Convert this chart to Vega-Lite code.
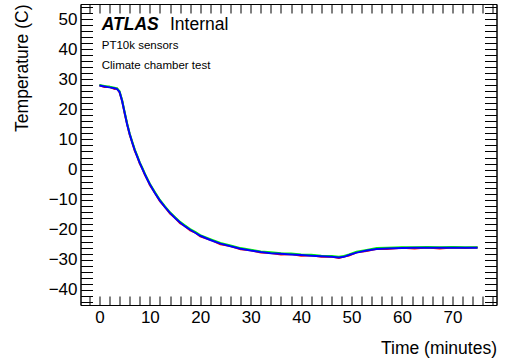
{
  "$schema": "https://vega.github.io/schema/vega-lite/v6.json",
  "width": 416,
  "height": 301,
  "autosize": {"type": "none"},
  "padding": {"left": 80.5, "top": 4, "right": 8.5, "bottom": 53},
  "background": "white",
  "config": {
    "font": "Liberation Sans",
    "view": {"stroke": "black", "strokeWidth": 1},
    "axis": {
      "grid": false,
      "domainColor": "black",
      "domainWidth": 1,
      "tickColor": "black",
      "tickWidth": 1,
      "labelColor": "black",
      "labelFont": "Liberation Sans",
      "labelFontSize": 17,
      "titleFont": "Liberation Sans",
      "titleFontSize": 17.5,
      "titleFontWeight": "normal",
      "titleColor": "black",
      "labelOverlap": false,
      "labelFlush": false
    }
  },
  "datasets": {
    "curves": [
      {"series": "red", "time": 0, "temp": 28.0}, {"series": "red", "time": 1, "temp": 27.4}, {"series": "red", "time": 2, "temp": 27.5}, {"series": "red", "time": 3, "temp": 26.8}, {"series": "red", "time": 3.5, "temp": 26.9}, {"series": "red", "time": 4, "temp": 25.6}, {"series": "red", "time": 4.5, "temp": 22.9}, {"series": "red", "time": 5, "temp": 18.7}, {"series": "red", "time": 5.5, "temp": 15.1}, {"series": "red", "time": 6, "temp": 11.6}, {"series": "red", "time": 6.5, "temp": 9.1}, {"series": "red", "time": 7, "temp": 6.3}, {"series": "red", "time": 7.5, "temp": 4.4}, {"series": "red", "time": 8, "temp": 2.0}, {"series": "red", "time": 8.5, "temp": 0.4}, {"series": "red", "time": 9, "temp": -1.7}, {"series": "red", "time": 9.5, "temp": -3.2}, {"series": "red", "time": 10, "temp": -5.1}, {"series": "red", "time": 11, "temp": -7.7}, {"series": "red", "time": 12, "temp": -10.5}, {"series": "red", "time": 13, "temp": -12.4}, {"series": "red", "time": 14, "temp": -14.6}, {"series": "red", "time": 15, "temp": -16.0}, {"series": "red", "time": 16, "temp": -17.8}, {"series": "red", "time": 17, "temp": -18.8}, {"series": "red", "time": 18, "temp": -20.2}, {"series": "red", "time": 19, "temp": -20.9}, {"series": "red", "time": 20, "temp": -22.2}, {"series": "red", "time": 22, "temp": -23.3}, {"series": "red", "time": 24, "temp": -24.8}, {"series": "red", "time": 26, "temp": -25.4}, {"series": "red", "time": 28, "temp": -26.5}, {"series": "red", "time": 30, "temp": -26.8}, {"series": "red", "time": 32, "temp": -27.6}, {"series": "red", "time": 34, "temp": -27.7}, {"series": "red", "time": 36, "temp": -28.2}, {"series": "red", "time": 38, "temp": -28.1}, {"series": "red", "time": 40, "temp": -28.6}, {"series": "red", "time": 42, "temp": -28.5}, {"series": "red", "time": 44, "temp": -29.0}, {"series": "red", "time": 46, "temp": -28.9}, {"series": "red", "time": 47.5, "temp": -29.4}, {"series": "red", "time": 48.5, "temp": -28.9}, {"series": "red", "time": 49.5, "temp": -28.6}, {"series": "red", "time": 51, "temp": -27.5}, {"series": "red", "time": 53, "temp": -27.1}, {"series": "red", "time": 55, "temp": -26.3}, {"series": "red", "time": 57, "temp": -26.4}, {"series": "red", "time": 60, "temp": -26.0}, {"series": "red", "time": 62.5, "temp": -26.2}, {"series": "red", "time": 65, "temp": -25.9}, {"series": "red", "time": 67.5, "temp": -26.2}, {"series": "red", "time": 70, "temp": -25.9}, {"series": "red", "time": 72.5, "temp": -26.1}, {"series": "red", "time": 75, "temp": -25.9},
      {"series": "green", "time": 0, "temp": 28.1}, {"series": "green", "time": 1, "temp": 27.8}, {"series": "green", "time": 2, "temp": 27.5}, {"series": "green", "time": 3, "temp": 27.2}, {"series": "green", "time": 3.5, "temp": 27.0}, {"series": "green", "time": 4, "temp": 26.0}, {"series": "green", "time": 4.5, "temp": 23.1}, {"series": "green", "time": 5, "temp": 19.1}, {"series": "green", "time": 5.5, "temp": 15.3}, {"series": "green", "time": 6, "temp": 12.0}, {"series": "green", "time": 6.5, "temp": 9.3}, {"series": "green", "time": 7, "temp": 6.7}, {"series": "green", "time": 7.5, "temp": 4.6}, {"series": "green", "time": 8, "temp": 2.4}, {"series": "green", "time": 8.5, "temp": 0.6}, {"series": "green", "time": 9, "temp": -1.3}, {"series": "green", "time": 9.5, "temp": -3.0}, {"series": "green", "time": 10, "temp": -4.7}, {"series": "green", "time": 11, "temp": -7.5}, {"series": "green", "time": 12, "temp": -10.1}, {"series": "green", "time": 13, "temp": -12.2}, {"series": "green", "time": 14, "temp": -14.2}, {"series": "green", "time": 15, "temp": -15.8}, {"series": "green", "time": 16, "temp": -17.4}, {"series": "green", "time": 17, "temp": -18.6}, {"series": "green", "time": 18, "temp": -19.8}, {"series": "green", "time": 19, "temp": -20.7}, {"series": "green", "time": 20, "temp": -21.8}, {"series": "green", "time": 22, "temp": -23.1}, {"series": "green", "time": 24, "temp": -24.4}, {"series": "green", "time": 26, "temp": -25.2}, {"series": "green", "time": 28, "temp": -26.1}, {"series": "green", "time": 30, "temp": -26.6}, {"series": "green", "time": 32, "temp": -27.2}, {"series": "green", "time": 34, "temp": -27.5}, {"series": "green", "time": 36, "temp": -27.8}, {"series": "green", "time": 38, "temp": -27.9}, {"series": "green", "time": 40, "temp": -28.2}, {"series": "green", "time": 42, "temp": -28.3}, {"series": "green", "time": 44, "temp": -28.6}, {"series": "green", "time": 46, "temp": -28.7}, {"series": "green", "time": 47.5, "temp": -29.0}, {"series": "green", "time": 48.5, "temp": -28.7}, {"series": "green", "time": 49.5, "temp": -28.2}, {"series": "green", "time": 51, "temp": -27.3}, {"series": "green", "time": 53, "temp": -26.7}, {"series": "green", "time": 55, "temp": -26.1}, {"series": "green", "time": 57, "temp": -26.0}, {"series": "green", "time": 60, "temp": -25.8}, {"series": "green", "time": 62.5, "temp": -25.8}, {"series": "green", "time": 65, "temp": -25.7}, {"series": "green", "time": 67.5, "temp": -25.8}, {"series": "green", "time": 70, "temp": -25.7}, {"series": "green", "time": 72.5, "temp": -25.8}, {"series": "green", "time": 75, "temp": -25.8},
      {"series": "blue", "time": 0, "temp": 27.9}, {"series": "blue", "time": 1, "temp": 27.6}, {"series": "blue", "time": 2, "temp": 27.3}, {"series": "blue", "time": 3, "temp": 27.0}, {"series": "blue", "time": 3.5, "temp": 26.7}, {"series": "blue", "time": 4, "temp": 25.8}, {"series": "blue", "time": 4.5, "temp": 22.8}, {"series": "blue", "time": 5, "temp": 18.9}, {"series": "blue", "time": 5.5, "temp": 15.0}, {"series": "blue", "time": 6, "temp": 11.8}, {"series": "blue", "time": 6.5, "temp": 9.0}, {"series": "blue", "time": 7, "temp": 6.5}, {"series": "blue", "time": 7.5, "temp": 4.3}, {"series": "blue", "time": 8, "temp": 2.2}, {"series": "blue", "time": 8.5, "temp": 0.3}, {"series": "blue", "time": 9, "temp": -1.5}, {"series": "blue", "time": 9.5, "temp": -3.3}, {"series": "blue", "time": 10, "temp": -4.9}, {"series": "blue", "time": 11, "temp": -7.8}, {"series": "blue", "time": 12, "temp": -10.3}, {"series": "blue", "time": 13, "temp": -12.5}, {"series": "blue", "time": 14, "temp": -14.4}, {"series": "blue", "time": 15, "temp": -16.1}, {"series": "blue", "time": 16, "temp": -17.6}, {"series": "blue", "time": 17, "temp": -18.9}, {"series": "blue", "time": 18, "temp": -20.0}, {"series": "blue", "time": 19, "temp": -21.0}, {"series": "blue", "time": 20, "temp": -22.0}, {"series": "blue", "time": 22, "temp": -23.4}, {"series": "blue", "time": 24, "temp": -24.6}, {"series": "blue", "time": 26, "temp": -25.5}, {"series": "blue", "time": 28, "temp": -26.3}, {"series": "blue", "time": 30, "temp": -26.9}, {"series": "blue", "time": 32, "temp": -27.4}, {"series": "blue", "time": 34, "temp": -27.8}, {"series": "blue", "time": 36, "temp": -28.0}, {"series": "blue", "time": 38, "temp": -28.2}, {"series": "blue", "time": 40, "temp": -28.4}, {"series": "blue", "time": 42, "temp": -28.6}, {"series": "blue", "time": 44, "temp": -28.8}, {"series": "blue", "time": 46, "temp": -29.0}, {"series": "blue", "time": 47.5, "temp": -29.2}, {"series": "blue", "time": 48.5, "temp": -29.0}, {"series": "blue", "time": 49.5, "temp": -28.4}, {"series": "blue", "time": 51, "temp": -27.6}, {"series": "blue", "time": 53, "temp": -26.9}, {"series": "blue", "time": 55, "temp": -26.4}, {"series": "blue", "time": 57, "temp": -26.2}, {"series": "blue", "time": 60, "temp": -26.1}, {"series": "blue", "time": 62.5, "temp": -26.0}, {"series": "blue", "time": 65, "temp": -26.0}, {"series": "blue", "time": 67.5, "temp": -26.0}, {"series": "blue", "time": 70, "temp": -26.0}, {"series": "blue", "time": 72.5, "temp": -26.0}, {"series": "blue", "time": 75, "temp": -26.0}
    ]
  },
  "layer": [
    {
      "data": {"name": "curves"},
      "transform": [{"filter": "datum.series === 'red'"}],
      "mark": {"type": "line", "color": "#ff0000", "strokeWidth": 2},
      "encoding": {
        "x": {
          "field": "time", "type": "quantitative",
          "scale": {"domain": [-3.75, 78.75], "nice": false, "zero": false},
          "axis": {
            "orient": "bottom",
            "values": [-2, 0, 2, 4, 6, 8, 10, 12, 14, 16, 18, 20, 22, 24, 26, 28, 30, 32, 34, 36, 38, 40, 42, 44, 46, 48, 50, 52, 54, 56, 58, 60, 62, 64, 66, 68, 70, 72, 74, 76, 78],
            "labelExpr": "datum.value % 10 === 0 ? datum.label : ''",
            "tickSize": -9,
            "labelPadding": 13,
            "encode": {"ticks": {"update": {"y2": {"signal": "datum.value % 10 === 0 ? -9 : -4.5"}}}},
            "title": "Time (minutes)",
            "titleX": 416,
            "titleY": 48,
            "titleAlign": "right",
            "titleBaseline": "alphabetic"
          }
        },
        "y": {
          "field": "temp", "type": "quantitative",
          "scale": {"domain": [-45, 55], "nice": false, "zero": false},
          "axis": {
            "orient": "left",
            "values": [-44, -42, -40, -38, -36, -34, -32, -30, -28, -26, -24, -22, -20, -18, -16, -14, -12, -10, -8, -6, -4, -2, 0, 2, 4, 6, 8, 10, 12, 14, 16, 18, 20, 22, 24, 26, 28, 30, 32, 34, 36, 38, 40, 42, 44, 46, 48, 50, 52, 54],
            "labelExpr": "datum.value % 10 === 0 ? datum.label : ''",
            "tickSize": -12,
            "labelPadding": 15.5,
            "encode": {"ticks": {"update": {"x2": {"signal": "datum.value % 10 === 0 ? 12 : 6"}}}},
            "title": "Temperature (C)",
            "titleAngle": -90,
            "titleX": -53,
            "titleY": 0,
            "titleAlign": "right",
            "titleBaseline": "alphabetic"
          }
        }
      }
    },
    {
      "data": {"name": "curves"},
      "transform": [{"filter": "datum.series === 'green'"}],
      "mark": {"type": "line", "color": "#00ff00", "strokeWidth": 2},
      "encoding": {
        "x": {"field": "time", "type": "quantitative", "scale": {"domain": [-3.75, 78.75], "nice": false, "zero": false}, "axis": null},
        "y": {"field": "temp", "type": "quantitative", "scale": {"domain": [-45, 55], "nice": false, "zero": false}, "axis": null}
      }
    },
    {
      "data": {"name": "curves"},
      "transform": [{"filter": "datum.series === 'blue'"}],
      "mark": {"type": "line", "color": "#0000ff", "strokeWidth": 2},
      "encoding": {
        "x": {
          "field": "time", "type": "quantitative",
          "scale": {"domain": [-3.75, 78.75], "nice": false, "zero": false},
          "axis": {
            "orient": "top",
            "values": [-2, 0, 2, 4, 6, 8, 10, 12, 14, 16, 18, 20, 22, 24, 26, 28, 30, 32, 34, 36, 38, 40, 42, 44, 46, 48, 50, 52, 54, 56, 58, 60, 62, 64, 66, 68, 70, 72, 74, 76, 78],
            "labels": false,
            "title": null,
            "tickSize": -9,
            "encode": {"ticks": {"update": {"y2": {"signal": "datum.value % 10 === 0 ? 9 : 4.5"}}}}
          }
        },
        "y": {
          "field": "temp", "type": "quantitative",
          "scale": {"domain": [-45, 55], "nice": false, "zero": false},
          "axis": {
            "orient": "right",
            "values": [-44, -42, -40, -38, -36, -34, -32, -30, -28, -26, -24, -22, -20, -18, -16, -14, -12, -10, -8, -6, -4, -2, 0, 2, 4, 6, 8, 10, 12, 14, 16, 18, 20, 22, 24, 26, 28, 30, 32, 34, 36, 38, 40, 42, 44, 46, 48, 50, 52, 54],
            "labels": false,
            "title": null,
            "tickSize": -12,
            "encode": {"ticks": {"update": {"x2": {"signal": "datum.value % 10 === 0 ? -12 : -6"}}}}
          }
        }
      }
    },
    {
      "data": {"values": [{"time": 0.46, "temp": 46.2, "label": "ATLAS"}]},
      "mark": {"type": "text", "font": "Liberation Sans", "fontSize": 17.5, "fontWeight": "bold", "fontStyle": "italic", "align": "left", "baseline": "alphabetic", "color": "black"},
      "encoding": {
        "x": {"field": "time", "type": "quantitative", "scale": {"domain": [-3.75, 78.75], "nice": false, "zero": false}, "axis": null},
        "y": {"field": "temp", "type": "quantitative", "scale": {"domain": [-45, 55], "nice": false, "zero": false}, "axis": null},
        "text": {"field": "label"}
      }
    },
    {
      "data": {"values": [{"time": 14.0, "temp": 46.2, "label": "Internal"}]},
      "mark": {"type": "text", "font": "Liberation Sans", "fontSize": 17.5, "align": "left", "baseline": "alphabetic", "color": "black"},
      "encoding": {
        "x": {"field": "time", "type": "quantitative", "scale": {"domain": [-3.75, 78.75], "nice": false, "zero": false}, "axis": null},
        "y": {"field": "temp", "type": "quantitative", "scale": {"domain": [-45, 55], "nice": false, "zero": false}, "axis": null},
        "text": {"field": "label"}
      }
    },
    {
      "data": {"values": [{"time": 0.46, "temp": 40.1, "label": "PT10k sensors"}, {"time": 0.46, "temp": 33.4, "label": "Climate chamber test"}]},
      "mark": {"type": "text", "font": "Liberation Sans", "fontSize": 11.5, "align": "left", "baseline": "alphabetic", "color": "black"},
      "encoding": {
        "x": {"field": "time", "type": "quantitative", "scale": {"domain": [-3.75, 78.75], "nice": false, "zero": false}, "axis": null},
        "y": {"field": "temp", "type": "quantitative", "scale": {"domain": [-45, 55], "nice": false, "zero": false}, "axis": null},
        "text": {"field": "label"}
      }
    }
  ],
  "resolve": {"axis": {"x": "independent", "y": "independent"}}
}
